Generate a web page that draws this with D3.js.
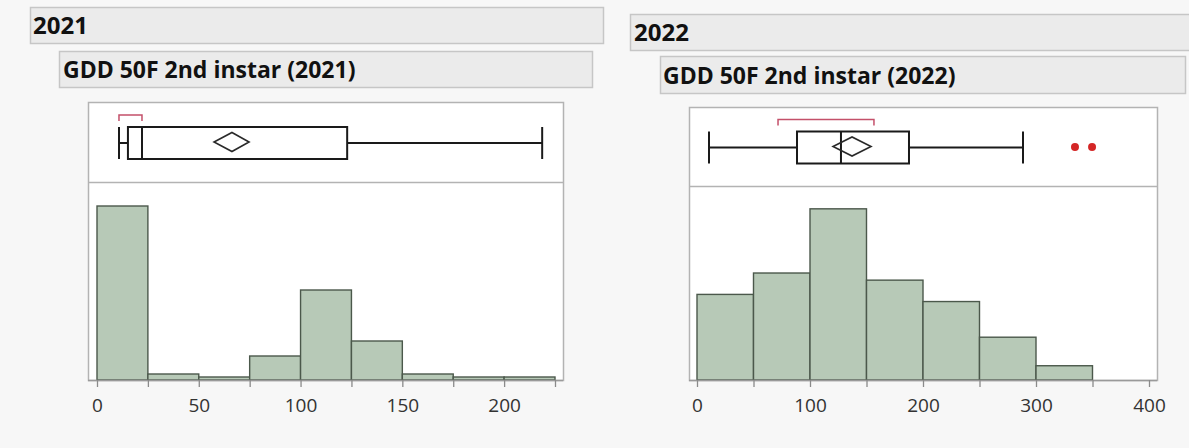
<!DOCTYPE html>
<html>
<head>
<meta charset="utf-8">
<script src="https://cdn.jsdelivr.net/npm/d3@7"></script>
<style>
  html, body { margin: 0; padding: 0; background: #f7f7f7; }
  svg { display: block; }
  text { font-family: "Open Sans", "Noto Sans", sans-serif; }
</style>
</head>
<body>
<svg id="chart" width="1189" height="448"></svg>
<script>
// ---- 2021: GDD 50F at 2nd instar ----
const binEdges2021 = [0, 25, 50, 75, 100, 125, 150, 175, 200, 225];
const counts2021   = [58, 2, 1, 8, 30, 13, 2, 1, 1];
const quantiles2021 = { min: 10.8, q1: 15.2, median: 22.1, q3: 122.9, max: 218.7 };
const mean2021      = 66.3;
const meanCI2021    = [57.5, 74.7];
const shortHalf2021 = [10.8, 22.1];
const outliers2021  = [];
const ticks2021       = [0, 25, 50, 75, 100, 125, 150, 175, 200, 225];
const tickLabels2021  = [0, 50, 100, 150, 200];

// ---- 2022: GDD 50F at 2nd instar ----
const binEdges2022 = [0, 50, 100, 150, 200, 250, 300, 350];
const counts2022   = [12, 15, 24, 14, 11, 6, 2];
const quantiles2022 = { min: 10.6, q1: 88.5, median: 127.4, q3: 187.6, max: 288.5 };
const mean2022      = 137.2;
const meanCI2022    = [120.4, 154.0];
const shortHalf2022 = [71.7, 156.6];
const outliers2022  = [334.5, 349.6];
const ticks2022       = [0, 50, 100, 150, 200, 250, 300, 350, 400];
const tickLabels2022  = [0, 100, 200, 300, 400];

const svg = d3.select("#chart");

const panels = [
  {
    group: "2021", title: "GDD 50F 2nd instar (2021)",
    head: { x: 30, y: 7, w: 573, h: 36, tx: 33, ty: 34 },
    sub:  { x: 59, y: 51, w: 533, h: 36, tx: 63, ty: 78 },
    frame: { x: 88, y: 102, w: 475, divider: 182, bottom: 380 },
    xDomain: [0, 225], xRange: [97, 555], yMax: 66,
    edges: binEdges2021, counts: counts2021, q: quantiles2021,
    mean: mean2021, ci: meanCI2021, half: shortHalf2021, out: outliers2021,
    ticks: ticks2021, labels: tickLabels2021
  },
  {
    group: "2022", title: "GDD 50F 2nd instar (2022)",
    head: { x: 630, y: 14, w: 580, h: 36, tx: 634, ty: 41 },
    sub:  { x: 660, y: 56, w: 525, h: 37, tx: 663, ty: 84 },
    frame: { x: 689, y: 107, w: 468, divider: 186, bottom: 380 },
    xDomain: [0, 400], xRange: [697, 1149], yMax: 27.2,
    edges: binEdges2022, counts: counts2022, q: quantiles2022,
    mean: mean2022, ci: meanCI2022, half: shortHalf2022, out: outliers2022,
    ticks: ticks2022, labels: tickLabels2022
  }
];

panels.forEach(p => {
  const g = svg.append("g");

  // header bars
  g.append("rect")
    .attr("x", p.head.x + 0.5).attr("y", p.head.y + 0.5)
    .attr("width", p.head.w).attr("height", p.head.h)
    .attr("fill", "#ebebeb").attr("stroke", "#c6c6c6").attr("stroke-width", 1.5);
  g.append("text")
    .attr("x", p.head.tx).attr("y", p.head.ty)
    .attr("font-size", 24).attr("font-weight", 700).attr("fill", "#111")
    .text(p.group);

  g.append("rect")
    .attr("x", p.sub.x + 0.5).attr("y", p.sub.y + 0.5)
    .attr("width", p.sub.w).attr("height", p.sub.h)
    .attr("fill", "#ebebeb").attr("stroke", "#c6c6c6").attr("stroke-width", 1.5);
  g.append("text")
    .attr("x", p.sub.tx).attr("y", p.sub.ty)
    .attr("font-size", 23).attr("font-weight", 700).attr("fill", "#111")
    .text(p.title);

  const f = p.frame;
  // plot frame
  g.append("rect")
    .attr("x", f.x + 0.5).attr("y", f.y + 0.5)
    .attr("width", f.w).attr("height", f.bottom - f.y)
    .attr("fill", "#fff").attr("stroke", "#b3b3b3").attr("stroke-width", 1.5);
  g.append("line")
    .attr("x1", f.x).attr("x2", f.x + f.w)
    .attr("y1", f.divider + 0.5).attr("y2", f.divider + 0.5)
    .attr("stroke", "#b3b3b3").attr("stroke-width", 1.5);

  const x = d3.scaleLinear().domain(p.xDomain).range(p.xRange);
  const y = d3.scaleLinear().domain([0, p.yMax]).range([f.bottom, f.divider]);

  // histogram bars
  const bins = p.counts.map((c, i) => ({ x0: p.edges[i], x1: p.edges[i + 1], n: c }));
  g.append("g").selectAll("rect").data(bins).join("rect")
    .attr("x", d => x(d.x0))
    .attr("y", d => y(d.n))
    .attr("width", d => x(d.x1) - x(d.x0))
    .attr("height", d => y(0) - y(d.n))
    .attr("fill", "#b7c9b7")
    .attr("stroke", "#4b584b").attr("stroke-width", 1.4);

  // axis
  const axis = d3.axisBottom(x)
    .tickValues(p.ticks)
    .tickSize(7).tickSizeOuter(0)
    .tickFormat(d => p.labels.includes(d) ? d3.format("d")(d) : "");
  const ax = g.append("g").attr("transform", `translate(0,${f.bottom})`).call(axis);
  ax.select(".domain")
    .attr("d", `M${f.x},0.5H${f.x + f.w}`)
    .attr("stroke", "#9a9a9a").attr("stroke-width", 1.5);
  ax.selectAll(".tick line").attr("stroke", "#8a8a8a").attr("stroke-width", 1.3);
  ax.selectAll(".tick text")
    .attr("y", 19).attr("dy", "0.71em")
    .attr("font-size", 19).attr("fill", "#333")
    .attr("font-family", "'Open Sans', 'Noto Sans', sans-serif");

  // outlier box plot
  const cy = (f.y + f.divider) / 2 + 1;
  const bh = 32;
  const top = cy - bh / 2, bot = cy + bh / 2;
  const q = p.q;
  const bp = g.append("g").attr("fill", "none").attr("stroke", "#1a1a1a").attr("stroke-width", 2);

  bp.append("line").attr("x1", x(q.min)).attr("x2", x(q.q1)).attr("y1", cy).attr("y2", cy);
  bp.append("line").attr("x1", x(q.q3)).attr("x2", x(q.max)).attr("y1", cy).attr("y2", cy);
  [q.min, q.max].forEach(v =>
    bp.append("line").attr("x1", x(v)).attr("x2", x(v)).attr("y1", top).attr("y2", bot));
  bp.append("rect")
    .attr("x", x(q.q1)).attr("y", top)
    .attr("width", x(q.q3) - x(q.q1)).attr("height", bh);
  bp.append("line").attr("x1", x(q.median)).attr("x2", x(q.median)).attr("y1", top).attr("y2", bot);

  // mean confidence diamond
  const dh = 9.5;
  const dy = cy - 1;
  bp.append("path")
    .attr("stroke-width", 1.6).attr("stroke", "#2a2a2a")
    .attr("d", `M${x(p.ci[0])},${dy}L${x(p.mean)},${dy - dh}L${x(p.ci[1])},${dy}L${x(p.mean)},${dy + dh}Z`);

  // shortest half bracket
  const by = top - 12;
  g.append("path")
    .attr("fill", "none").attr("stroke", "#c4506a").attr("stroke-width", 1.5)
    .attr("d", `M${x(p.half[0])},${by + 6}V${by}H${x(p.half[1])}V${by + 6}`);

  // outliers
  g.append("g").selectAll("circle").data(p.out).join("circle")
    .attr("cx", d => x(d)).attr("cy", cy - 0.5).attr("r", 4)
    .attr("fill", "#d42626");
});
</script>
</body>
</html>
